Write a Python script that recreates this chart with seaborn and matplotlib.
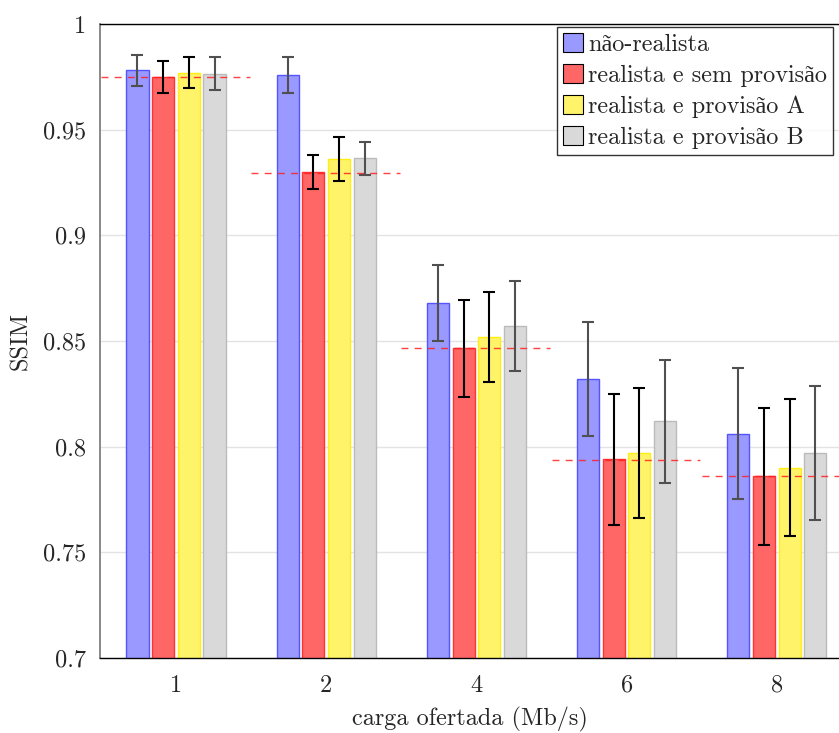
import matplotlib
matplotlib.use("Agg")
import matplotlib.pyplot as plt
import seaborn as sns
import pandas as pd
import numpy as np
from matplotlib.patches import Patch
from matplotlib.container import BarContainer

# ---------------- data ----------------
categories = ["1", "2", "4", "6", "8"]
series = ["não-realista", "realista e sem provisão", "realista e provisão A", "realista e provisão B"]
nao_realista = [0.978, 0.976, 0.868, 0.832, 0.806]
sem_provisao = [0.975, 0.930, 0.8465, 0.794, 0.786]
provisao_a = [0.977, 0.936, 0.852, 0.797, 0.790]
provisao_b = [0.9765, 0.9365, 0.857, 0.812, 0.797]
err_nao_realista = [0.0075, 0.0085, 0.018, 0.027, 0.031]
err_sem_provisao = [0.0077, 0.0081, 0.023, 0.031, 0.0325]
err_provisao_a = [0.0073, 0.0103, 0.0214, 0.0308, 0.0325]
err_provisao_b = [0.0077, 0.0078, 0.0214, 0.0292, 0.0319]
reference_line = [0.975, 0.9295, 0.8465, 0.7937, 0.786]
yticks = [0.7, 0.75, 0.8, 0.85, 0.9, 0.95, 1.0]
ytick_labels = ["0.7", "0.75", "0.8", "0.85", "0.9", "0.95", "1"]

values = [nao_realista, sem_provisao, provisao_a, provisao_b]
errors = [err_nao_realista, err_sem_provisao, err_provisao_a, err_provisao_b]

fills = ["#9999ff", "#ff6666", "#fff36a", "#d9d9d9"]
edges = ["#5555ff", "#ff3333", "#ffee11", "#bbbbbb"]
err_colors = ["#505050", "#000000", "#000000", "#505050"]

rows = []
for s, vals in zip(series, values):
    for c, v in zip(categories, vals):
        rows.append({"carga": c, "serie": s, "ssim": v})
df = pd.DataFrame(rows)

sns.set_style("white")
plt.rcParams["font.family"] = ["cmr10", "Liberation Serif"]
plt.rcParams["mathtext.fontset"] = "cm"
plt.rcParams["axes.unicode_minus"] = False
plt.rcParams["axes.formatter.use_mathtext"] = True
FS = 17.5

fig = plt.figure(figsize=(8.39, 7.33), dpi=100)
ax = fig.add_axes([100 / 839, 1 - 658 / 733, 1 - 100 / 839, (658 - 24) / 733])

sns.barplot(data=df, x="carga", y="ssim", hue="serie", order=categories,
            hue_order=series, palette=fills, saturation=1, errorbar=None,
            width=0.684, gap=0.14, ax=ax, legend=False, zorder=2)

bar_containers = [c for c in ax.containers if isinstance(c, BarContainer)]
for i, cont in enumerate(bar_containers):
    xs = []
    for p in cont.patches:
        p.set_facecolor(fills[i])
        p.set_edgecolor(edges[i])
        p.set_linewidth(1.0)
        xs.append(p.get_x() + p.get_width() / 2)
    ax.errorbar(xs, values[i], yerr=errors[i], fmt="none", ecolor=err_colors[i],
                elinewidth=1.5, capsize=4, capthick=1.5, zorder=4)

# reference dashed lines
for k, v in enumerate(reference_line):
    ax.hlines(v, k - 0.5, k + 0.49, colors="#ff2020", linestyles=(0, (5, 4.5)),
              linewidth=1.0, alpha=0.85, zorder=5)

ax.set_ylim(0.7, 1.0)
ax.set_xlim(-0.506, 4.414)
ax.set_yticks(yticks)
ax.set_yticklabels(ytick_labels, fontsize=FS)
ax.set_xticks(range(len(categories)))
ax.set_xticklabels(categories, fontsize=FS)
ax.tick_params(axis="y", direction="in", length=7, color="#7f7f7f", width=1, pad=10)
ax.tick_params(axis="x", length=0, pad=12)
ax.yaxis.grid(True, color="#e3e3e3", linewidth=1.0, zorder=0)
ax.set_axisbelow(True)

ax.spines["left"].set_color("#808080")
ax.spines["left"].set_linewidth(1.3)
ax.spines["bottom"].set_color("#000000")
ax.spines["top"].set_color("#000000")
ax.spines["right"].set_visible(False)
for s in ["bottom", "top"]:
    ax.spines[s].set_linewidth(1.0)

ax.set_xlabel("carga ofertada (Mb/s)", fontsize=FS, labelpad=7)
ax.set_ylabel("SSIM", fontsize=FS, labelpad=8)

handles = [Patch(facecolor=f, edgecolor="black", linewidth=0.8) for f in fills]
leg = ax.legend(handles, series, loc="upper left", bbox_to_anchor=(0.618, 0.996),
                fontsize=FS, frameon=True, fancybox=False, edgecolor="black",
                handlelength=0.85, handleheight=0.85, handletextpad=0.2,
                labelspacing=0.33, borderpad=0.25, borderaxespad=0)
leg.get_frame().set_linewidth(1.0)

fig.savefig("out.png", dpi=100)
